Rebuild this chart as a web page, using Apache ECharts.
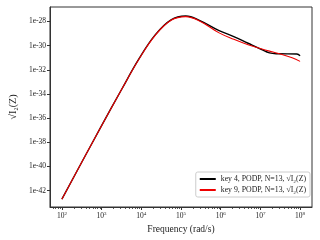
<!DOCTYPE html>
<html><head><meta charset="utf-8">
<script src="https://cdn.jsdelivr.net/npm/echarts@6/dist/echarts.min.js"></script>
<style>html,body{margin:0;padding:0;background:#fff}#c{width:320px;height:240px}</style>
</head><body><div id="c"></div>
<script>
// log10(frequency), log10(sqrt(I2))
const freqLog4 = [2.0, 2.5, 3.0, 3.5, 3.94, 4.35, 4.75, 5.12, 5.49, 5.96, 6.33, 6.69, 7.02, 7.23, 7.43, 7.92, 8.0];
const key4Log  = [-42.7, -39.65, -36.62, -33.65, -31.1, -29.11, -27.86, -27.55, -27.95, -28.75, -29.25, -29.8, -30.3, -30.6, -30.67, -30.69, -30.83];
const freqLog9 = [2.0, 2.5, 3.0, 3.5, 3.94, 4.35, 4.75, 5.12, 5.49, 5.96, 6.33, 6.69, 7.02, 7.23, 7.43, 7.8, 8.0];
const key9Log  = [-42.7, -39.65, -36.62, -33.65, -31.12, -29.14, -27.9, -27.6, -28.0, -28.94, -29.47, -29.92, -30.25, -30.45, -30.63, -31.0, -31.3];
const xMajor = [2, 3, 4, 5, 6, 7, 8];
const yMajor = [-42, -40, -38, -36, -34, -32, -30, -28];
const seriesNames = ['key 4, PODP, N=13, \u221AI\u2082(Z)', 'key 9, PODP, N=13, \u221AI\u2082(Z)'];

const xMinor = [];
for (let d = 1; d <= 8; d++) for (let k = 2; k <= 9; k++) {
  const v = d + Math.log10(k);
  if (v > 1.7 && v < 8.3) xMinor.push(v);
}
const font = 'Liberation Serif';
const chart = echarts.init(document.getElementById('c'));
const axMin = 1.7, axMax = 8.3;
chart.setOption({
  animation: false,
  textStyle: {fontFamily: font},
  grid: {left: 42, right: 8, top: 7, bottom: 33, show: true, borderColor: '#333', borderWidth: 1},
  xAxis: [{
    type: 'value', min: axMin, max: axMax,
    axisLine: {show: true, lineStyle: {color: '#333', width: 1}},
    splitLine: {show: false},
    axisTick: {show: true, length: 3, lineStyle: {color: '#333'}, customValues: xMajor},
    axisLabel: {customValues: xMajor, margin: 4, color: '#222', fontFamily: font,
      formatter: v => '{b|10}{s|' + Math.round(v) + '}',
      rich: {b: {fontSize: 7.5, fontFamily: font, color: '#222'}, s: {fontSize: 5, fontFamily: font, color: '#222', verticalAlign: 'top', padding: [0, 0, 5, 0]}}},
    name: 'Frequency (rad/s)', nameLocation: 'middle', nameGap: 17,
    nameTextStyle: {fontSize: 9.5, fontFamily: font, color: '#222'}
  }, {
    type: 'value', min: axMin, max: axMax, position: 'bottom',
    axisLine: {show: false}, splitLine: {show: false},
    axisTick: {show: true, length: 1.8, lineStyle: {color: '#333'}, customValues: xMinor},
    axisLabel: {show: false}
  }],
  yAxis: {
    type: 'value', min: -43.35, max: -26.8,
    axisLine: {show: true, lineStyle: {color: '#333', width: 1}},
    splitLine: {show: false},
    axisTick: {show: true, length: 3, lineStyle: {color: '#333'}, customValues: yMajor},
    axisLabel: {customValues: yMajor, margin: 4, fontSize: 7.5, color: '#222', fontFamily: font,
      formatter: v => '1e' + Math.round(v)},
    name: '\u221AI\u2082(Z)', nameLocation: 'middle', nameGap: 28, nameRotate: 90,
    nameTextStyle: {fontSize: 10, fontFamily: font, color: '#222'}
  },
  legend: {
    right: 10, bottom: 43, orient: 'vertical', itemWidth: 16, itemHeight: 2, itemGap: 3,
    padding: [3, 4, 3, 4], borderColor: '#ccc', borderWidth: 1, borderRadius: 2,
    backgroundColor: '#fff',
    textStyle: {fontSize: 7.8, fontFamily: font, color: '#222'},
    icon: 'rect',
    data: seriesNames
  },
  series: [
    {name: seriesNames[0], type: 'line', smooth: 0.4, symbol: 'none',
     data: freqLog4.map((x, i) => [x, key4Log[i]]), lineStyle: {color: '#000', width: 1.4}, itemStyle: {color: '#000'}},
    {name: seriesNames[1], type: 'line', smooth: 0.4, symbol: 'none',
     data: freqLog9.map((x, i) => [x, key9Log[i]]), lineStyle: {color: '#e00', width: 1.1}, itemStyle: {color: '#e00'}}
  ]
});
</script></body></html>
